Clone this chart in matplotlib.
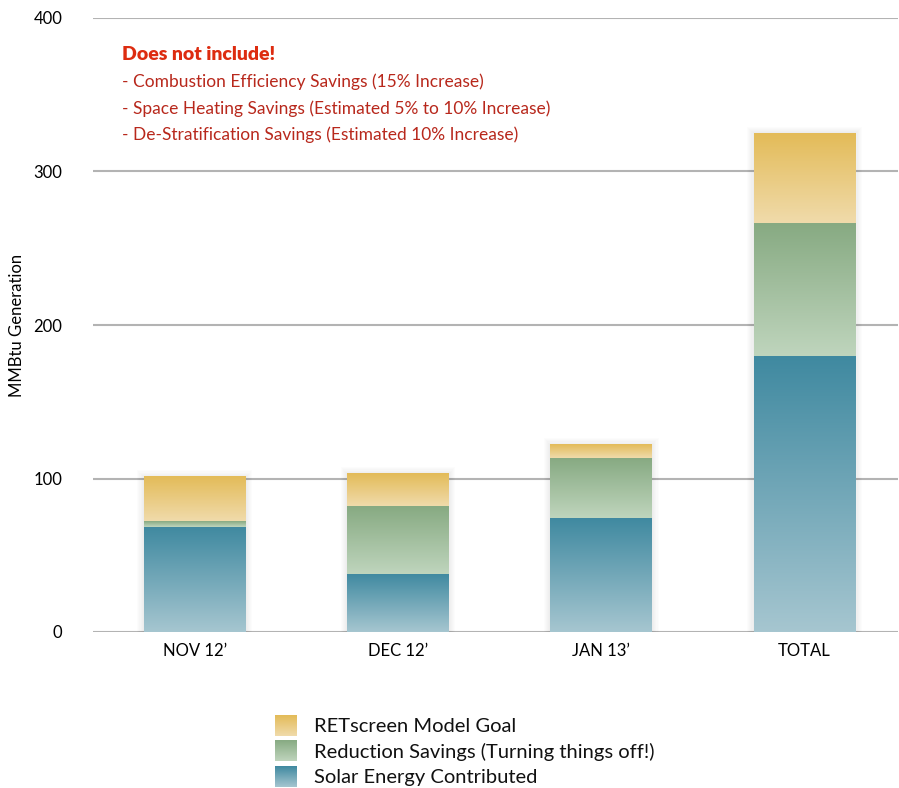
import numpy as np
import matplotlib
matplotlib.use("Agg")
from matplotlib import pyplot as plt
from matplotlib.colors import LinearSegmentedColormap
from matplotlib.patches import Rectangle

plt.rcParams["font.family"] = ["Lato", "DejaVu Sans"]

months = ["NOV 12\u2019", "DEC 12\u2019", "JAN 13\u2019", "TOTAL"]
solar = [68.5, 38.0, 74.5, 180.0]
reduction = [3.5, 44.0, 39.0, 86.5]
goal = [29.0, 21.0, 8.5, 58.5]

series_names = [
    "RETscreen Model Goal",
    "Reduction Savings (Turning things off!)",
    "Solar Energy Contributed",
]
notes_title = "Does not include!"
notes = [
    "- Combustion Efficiency Savings (15% Increase)",
    "- Space Heating Savings (Estimated 5% to 10% Increase)",
    "- De-Stratification Savings (Estimated 10% Increase)",
]

# light (bottom) -> dark (top) for every segment
ramps = {
    "goal": LinearSegmentedColormap.from_list("goal", ["#f0dbab", "#e3bb58"]),
    "reduction": LinearSegmentedColormap.from_list("red", ["#bfd5bd", "#87aa82"]),
    "solar": LinearSegmentedColormap.from_list("solar", ["#a6c6d0", "#3f89a0"]),
}
grad = np.linspace(0, 1, 256).reshape(-1, 1)

fig = plt.figure(figsize=(8.99, 7.88), dpi=100)
ax = fig.add_axes([93 / 899, 1 - 632 / 788, 805 / 899, 614 / 788])

width = 0.5
x = np.arange(len(months))
px_x = 805 / 3.96
px_y = 614 / 400

for i in x:
    top = solar[i] + reduction[i] + goal[i]
    # soft shadow behind each bar
    for k in range(1, 7):
        dx = k * 1.1 / px_x
        dy = k * 1.1 / px_y
        ax.add_patch(Rectangle((i - width / 2 - dx, 0), width + 2 * dx, top + dy,
                               facecolor="black", alpha=0.01, lw=0, zorder=2))
    bottom = 0
    for key, h in zip(["solar", "reduction", "goal"], [solar[i], reduction[i], goal[i]]):
        ax.imshow(grad, cmap=ramps[key], origin="lower", aspect="auto",
                  extent=(i - width / 2, i + width / 2, bottom, bottom + h),
                  interpolation="bilinear", zorder=3)
        bottom += h

ax.set_xlim(-0.5, 3.46)
ax.set_ylim(0, 400)
ax.set_yticks([0, 100, 200, 300, 400])
ax.set_xticks(x)
ax.set_xticklabels(months)
ax.tick_params(length=0, labelsize=12, colors="black")
ax.tick_params(axis="y", pad=22)
ax.tick_params(axis="x", pad=8)
ax.yaxis.grid(True, color="#b3b3b3", lw=1.5, zorder=1)
ax.set_axisbelow(True)
for s in ax.spines.values():
    s.set_visible(False)
ax.set_ylabel("MMBtu Generation", fontsize=12)
ax.yaxis.set_label_coords(-0.085, 0.5)

ax.text(0.036, 0.940, notes_title, transform=ax.transAxes, fontsize=14,
        fontweight="heavy", color="#dd2c10", va="center")
for j, line in enumerate(notes):
    ax.text(0.036, 0.940 - (j + 1) * 0.0435, line, transform=ax.transAxes,
            fontsize=12.5, color="#b8281c", va="center")

# legend with gradient swatches
lax = fig.add_axes([0, 0, 1, 1], zorder=5)
lax.axis("off")
for j, (name, key) in enumerate(zip(series_names, ["goal", "reduction", "solar"])):
    y0 = 715 + j * 25.5
    lax.imshow(grad, cmap=ramps[key], origin="lower", aspect="auto",
               extent=(275, 297, y0 + 21, y0), interpolation="bilinear")
    lax.text(314, y0 + 11, name, fontsize=14.5, va="center", color="#111111")
lax.set_xlim(0, 899)
lax.set_ylim(788, 0)

fig.savefig("out.png", dpi=100)
